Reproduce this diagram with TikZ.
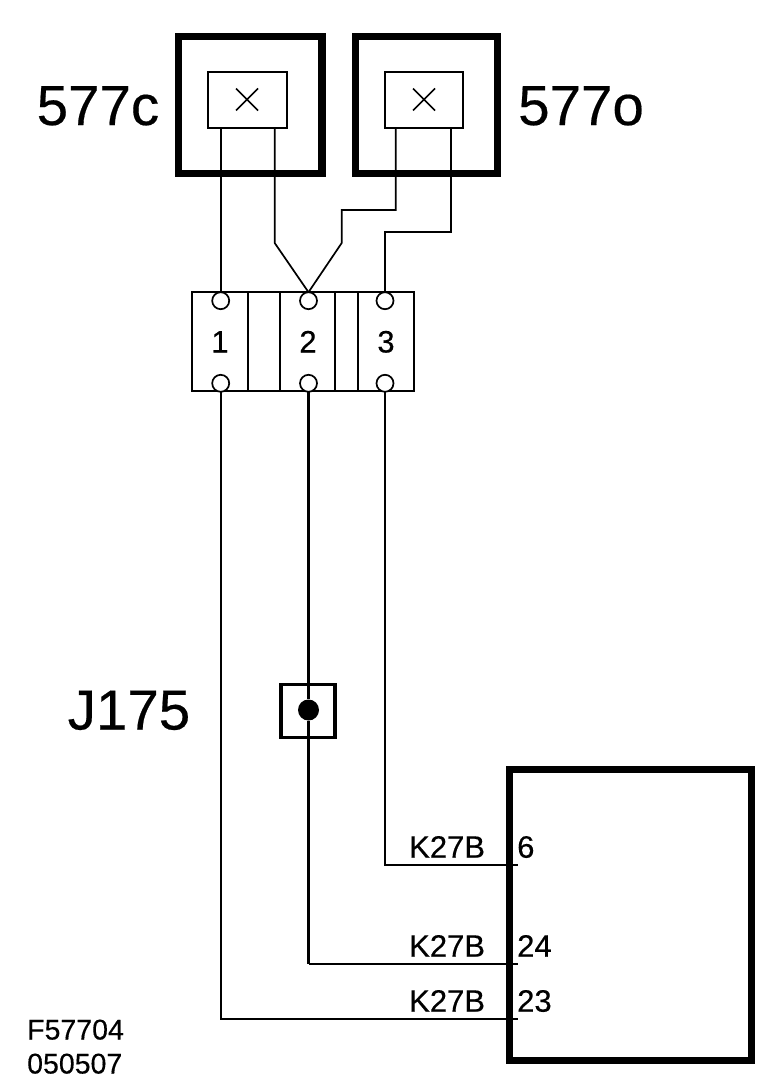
\documentclass[tikz,border=0pt]{standalone}
\usepackage{fontspec}
\setmainfont{Liberation Sans}[RawFeature={embolden=0.35}]
\tikzset{
  thickbox/.style={draw=black,line width=7.2pt,fill=none,line join=miter},
  thinbox/.style={draw=black,line width=1.7pt},
  wire/.style={draw=black,line width=1.7pt,line join=miter},
  wirethick/.style={wire,line width=2.3pt},
  term/.style={circle,draw=black,fill=white,line width=1.7pt,minimum size=17pt,inner sep=0pt,outer sep=0pt},
  big/.style={anchor=base west,inner sep=0pt,font=\fontsize{56.5}{56.5}\selectfont},
  mid/.style={anchor=base west,inner sep=0pt,font=\fontsize{31}{31}\selectfont},
  pin/.style={anchor=base,inner sep=0pt,font=\fontsize{31}{31}\selectfont},
  small/.style={anchor=base west,inner sep=0pt,font=\fontsize{28.5}{28.5}\selectfont}
}
\begin{document}
\begin{tikzpicture}[x=1pt,y=-1pt]
\useasboundingbox (0,0) rectangle (774,1092);
\fill[white] (0,0) rectangle (774,1092);
% relays
\draw[thickbox] (178.7,36.3) rectangle (322,173.5);
\draw[thickbox] (355.3,36.3) rectangle (497.6,173.5);
\draw[thinbox] (208.3,72.3) rectangle (286.7,127.7);
\draw[thinbox] (385,72.3) rectangle (462.7,127.7);
\draw[line width=1.6pt] (236,88.5) -- (258,110.5) (236,110.5) -- (258,88.5);
\draw[line width=1.6pt] (413,88.5) -- (435,110.5) (413,110.5) -- (435,88.5);
\node[big] (c) at (36.5,125) {577c};
\node[big] (o) at (518,125) {577o};
% connector block
\draw[thinbox] (192.3,292.3) rectangle (413.7,390.7);
\draw[thinbox] (247.7,292.3) -- (247.7,390.7) (280,292.3) -- (280,390.7) (335.3,292.3) -- (335.3,390.7) (358.3,292.3) -- (358.3,390.7);
\coordinate (a1) at (220.7,127);
\coordinate (a2) at (274.7,127);
\coordinate (b1) at (395.7,127);
\coordinate (b2) at (451,127);
\coordinate (ecu6) at (518,864.7);
\coordinate (ecu24) at (518,964.3);
\coordinate (ecu23) at (518,1018.7);
\node[term] (t1) at (220.7,300.7) {};
\node[term] (t2) at (308.5,300.7) {};
\node[term] (t3) at (385,300.7) {};
\node[term] (u1) at (220.7,383.3) {};
\node[term] (u2) at (308.5,383.3) {};
\node[term] (u3) at (385,383.3) {};
\node[pin] (n1) at (220,352.5) {1};
\node[pin] (n2) at (308,352.5) {2};
\node[pin] (n3) at (386,352.5) {3};
% wires
\draw[wire] (a1) -- (t1.north);
\draw[wire] (a2) -- (274.7,243) -- (t2.north);
\draw[wire] (b1) -- (395.7,210) -- (341.7,210) -- (341.7,243) -- (t2.north);
\draw[wire] (b2) -- (451,231.7) -- (385,231.7) -- (t3.north);
% splice
\draw[line width=3.6pt] (280.8,684.5) rectangle (334.9,737.5);
\node[circle,fill=black,minimum size=21pt,inner sep=0pt] (j) at (308.5,710) {};
\node[big] (jl) at (67.5,729.5) {J175};
\draw[wirethick] (u2.south) -- (j.north);
\draw[wirethick] (j.south) -- (308.5,964.3);
\draw[wire] (308.5,964.3) -- (ecu24);
\draw[wire] (u1.south) -- (220.7,1018.7) -- (ecu23);
\draw[wire] (u3.south) -- (385,864.7) -- (ecu6);
% ecu
\draw[thickbox] (509.6,769.3) rectangle (751.5,1060.4);
\node[mid] (k1) at (409,857.7) {K27B};
\node[mid] (k2) at (409,956.7) {K27B};
\node[mid] (k3) at (409,1011.7) {K27B};
\node[mid] (p1) at (517,857.7) {6};
\node[mid] (p2) at (517,956.7) {24};
\node[mid] (p3) at (517,1011.7) {23};
\node[small] (f1) at (27,1039.5) {F57704};
\node[small] (f2) at (27,1073.5) {050507};
\end{tikzpicture}
\end{document}
